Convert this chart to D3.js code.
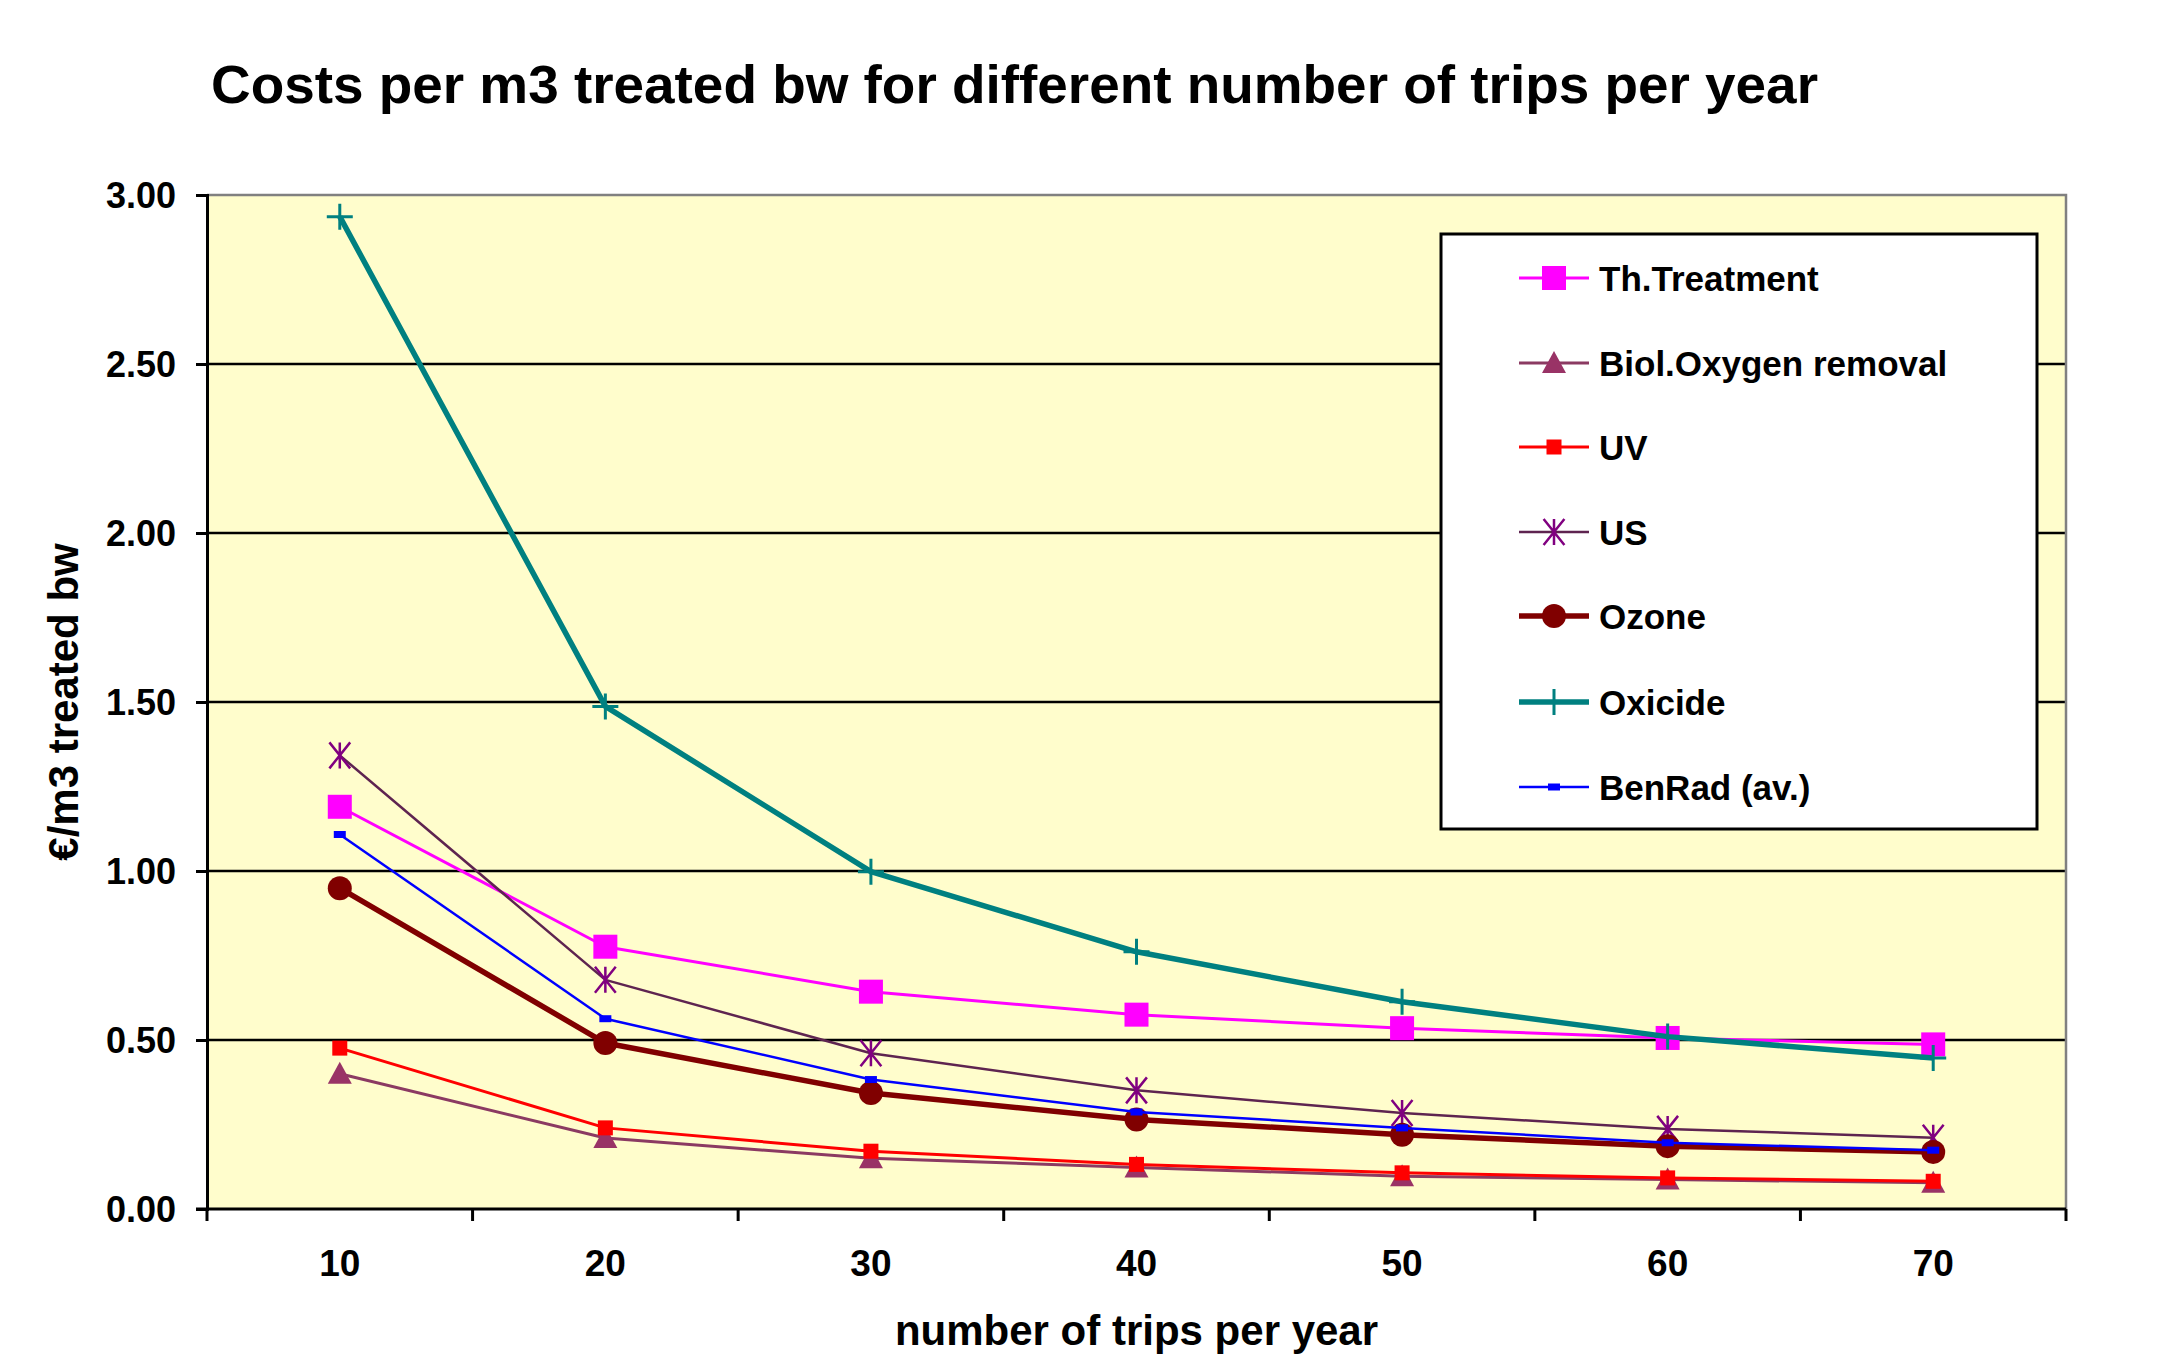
<!DOCTYPE html>
<html>
<head>
<meta charset="utf-8">
<script src="https://cdn.jsdelivr.net/npm/d3@7"></script>
<style>
  html, body { margin: 0; padding: 0; background: #ffffff; }
  svg { display: block; }
  text { font-family: "Liberation Sans", Arial, sans-serif; font-weight: bold; fill: #000; }
</style>
</head>
<body>
<svg id="chart" width="2164" height="1361"></svg>
<script>
// ---- data ----
const categories = [10, 20, 30, 40, 50, 60, 70];
const seriesNames = ["Th.Treatment", "Biol.Oxygen removal", "UV", "US", "Ozone", "Oxicide", "BenRad (av.)"];
const thTreatment = [1.19, 0.776, 0.643, 0.575, 0.535, 0.506, 0.487];
const biolOxygen  = [0.40, 0.21, 0.15, 0.123, 0.097, 0.087, 0.078];
const uv          = [0.476, 0.24, 0.171, 0.132, 0.107, 0.092, 0.082];
const us          = [1.342, 0.678, 0.461, 0.351, 0.284, 0.237, 0.211];
const ozone       = [0.949, 0.491, 0.343, 0.265, 0.220, 0.186, 0.169];
const oxicide     = [2.936, 1.487, 0.998, 0.761, 0.613, 0.510, 0.447];
const benRad      = [1.108, 0.563, 0.383, 0.287, 0.240, 0.196, 0.174];
const yTicks = [0, 0.5, 1, 1.5, 2, 2.5, 3];
const titleText = "Costs per m3 treated bw for different number of trips per year";
const xTitle = "number of trips per year";
const yTitle = "€/m3 treated bw";

// ---- styles ----
const styles = [
  { values: thTreatment, line: "#FF00FF", lw: 3,   marker: "square", fill: "#FF00FF", size: 24 },
  { values: biolOxygen,  line: "#8B3A62", lw: 3,   marker: "triangle", fill: "#993366", size: 24 },
  { values: uv,          line: "#FF0000", lw: 3,   marker: "square", fill: "#FF0000", size: 15 },
  { values: us,          line: "#5E2450", lw: 2.5, marker: "star", fill: "#800080", size: 26 },
  { values: ozone,       line: "#800000", lw: 5.5, marker: "circle", fill: "#800000", size: 24 },
  { values: oxicide,     line: "#008080", lw: 5.5, marker: "plus", fill: "#008080", size: 26 },
  { values: benRad,      line: "#0000FF", lw: 2.5, marker: "rect", fill: "#0000FF", size: 12 }
];

const svg = d3.select("#chart");
const L = 207, R = 2066, T = 195, B = 1209;

const x = d3.scaleBand().domain(categories).range([L, R]).paddingInner(0).paddingOuter(0);
const y = d3.scaleLinear().domain([0, 3]).range([B, T]);
const cx = d => x(d) + x.bandwidth() / 2;

// plot background
svg.append("rect").attr("x", L).attr("y", T).attr("width", R - L).attr("height", B - T)
  .attr("fill", "#FFFDCC");

// gridlines
svg.append("g").selectAll("line").data(yTicks.filter(v => v > 0 && v < 3)).join("line")
  .attr("x1", L).attr("x2", R).attr("y1", d => y(d)).attr("y2", d => y(d))
  .attr("stroke", "#000").attr("stroke-width", 2.5);

// top & right border (gray)
svg.append("path").attr("d", `M${L},${T}H${R}V${B}`).attr("fill", "none")
  .attr("stroke", "#808080").attr("stroke-width", 2.5);

// y axis
const yAxis = d3.axisLeft(y).tickValues(yTicks).tickFormat(d3.format(".2f")).tickSize(11).tickPadding(20);
const gy = svg.append("g").attr("transform", `translate(${L},0)`).call(yAxis);
gy.select(".domain").attr("stroke", "#000").attr("stroke-width", 3);
gy.selectAll(".tick line").attr("stroke", "#000").attr("stroke-width", 3);
gy.selectAll(".tick text").style("font-size", "36px").attr("dy", "0.36em")
  .style("font-family", '"Liberation Sans", Arial, sans-serif').style("font-weight", "bold");

// x axis (labels at centres, ticks at band boundaries)
const xAxis = d3.axisBottom(x).tickSize(0).tickPadding(0);
const gx = svg.append("g").attr("transform", `translate(0,${B})`).call(xAxis);
gx.select(".domain").remove();
gx.selectAll(".tick text").style("font-size", "37px").attr("y", 67).attr("dy", 0)
  .style("font-family", '"Liberation Sans", Arial, sans-serif').style("font-weight", "bold");
const bounds = categories.map(c => x(c)).concat([R]);
svg.append("g").selectAll("line").data(bounds).join("line")
  .attr("x1", d => d).attr("x2", d => d).attr("y1", B).attr("y2", B + 12)
  .attr("stroke", "#000").attr("stroke-width", 3);
svg.append("line").attr("x1", L - 11).attr("x2", R).attr("y1", B).attr("y2", B)
  .attr("stroke", "#000").attr("stroke-width", 3);

// marker drawing helper
function drawMarker(g, type, size, fill) {
  const h = size / 2;
  if (type === "square") {
    g.append("rect").attr("x", -h).attr("y", -h).attr("width", size).attr("height", size).attr("fill", fill);
  } else if (type === "rect") {
    g.append("rect").attr("x", -h).attr("y", -3.5).attr("width", size).attr("height", 7).attr("fill", fill);
  } else if (type === "circle") {
    g.append("circle").attr("r", h).attr("fill", fill);
  } else if (type === "triangle") {
    g.append("path").attr("d", `M0,${-h}L${h},${h - 2}L${-h},${h - 2}Z`).attr("fill", fill);
  } else if (type === "plus") {
    g.append("path").attr("d", `M${-h},0H${h}M0,${-h}V${h}`).attr("stroke", fill).attr("stroke-width", 3);
  } else if (type === "star") {
    const d = h * 0.8;
    g.append("path").attr("d", `M${-d},${-h}L${d},${h}M${d},${-h}L${-d},${h}M0,${-h}V${h}`)
      .attr("stroke", fill).attr("stroke-width", 2.5);
  }
}

// series
const line = d3.line().x((d, i) => cx(categories[i])).y(d => y(d));
styles.forEach(s => {
  const g = svg.append("g");
  g.append("path").datum(s.values).attr("d", line).attr("fill", "none")
    .attr("stroke", s.line).attr("stroke-width", s.lw).attr("stroke-linejoin", "round");
  s.values.forEach((v, i) => {
    const m = g.append("g").attr("transform", `translate(${cx(categories[i])},${y(v)})`);
    drawMarker(m, s.marker, s.size, s.fill);
  });
});

// legend
const LX = 1441, LY = 234, LW = 596, LH = 595;
svg.append("rect").attr("x", LX).attr("y", LY).attr("width", LW).attr("height", LH)
  .attr("fill", "#ffffff").attr("stroke", "#000").attr("stroke-width", 3);
const rowY = [278, 363, 447, 532, 616, 702, 787];
seriesNames.forEach((name, i) => {
  const s = styles[i];
  const g = svg.append("g").attr("transform", `translate(0,${rowY[i]})`);
  g.append("line").attr("x1", 1519).attr("x2", 1589).attr("y1", 0).attr("y2", 0)
    .attr("stroke", s.line).attr("stroke-width", s.lw);
  const m = g.append("g").attr("transform", `translate(1554,0)`);
  drawMarker(m, s.marker, s.marker === "rect" ? 12 : s.size, s.fill);
  g.append("text").attr("x", 1599).attr("y", 0).attr("dy", "0.36em")
    .style("font-size", "35px").text(name);
});

// title
svg.append("text").attr("x", 211).attr("y", 103).style("font-size", "54px")
  .attr("textLength", 1607).attr("lengthAdjust", "spacingAndGlyphs").text(titleText);

// axis titles
svg.append("text").attr("x", (L + R) / 2).attr("y", 1345).attr("text-anchor", "middle")
  .style("font-size", "42px").text(xTitle);
svg.append("text").attr("transform", `translate(78,${(T + B) / 2}) rotate(-90)`)
  .attr("text-anchor", "middle").style("font-size", "42px").text(yTitle);
</script>
</body>
</html>
